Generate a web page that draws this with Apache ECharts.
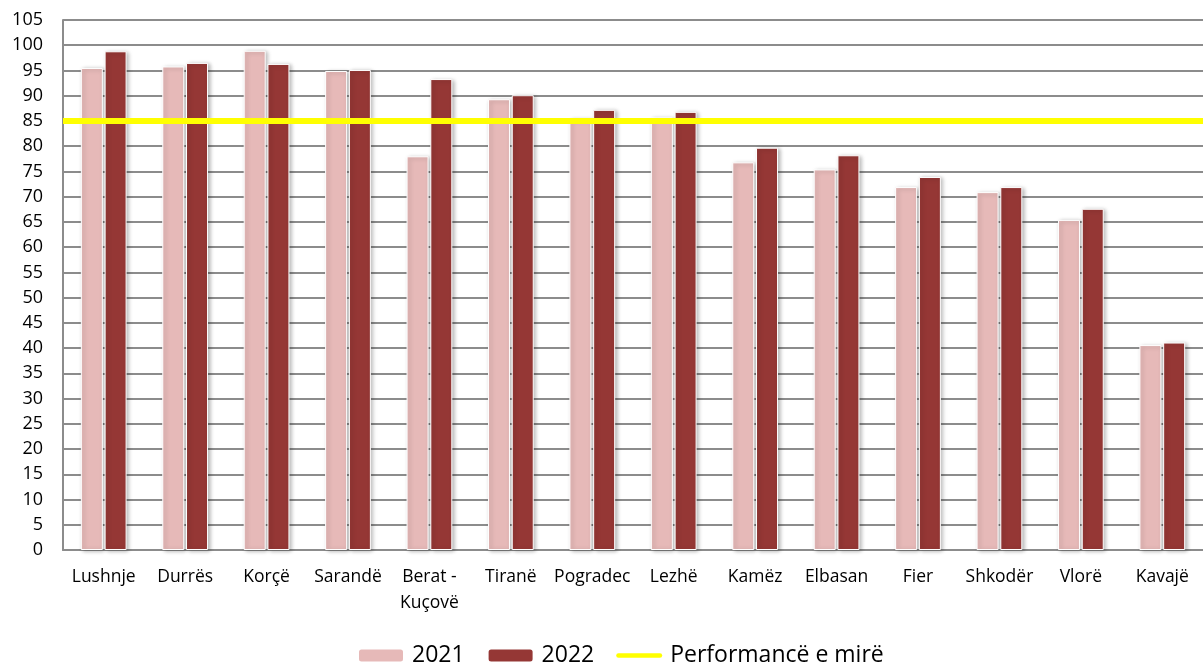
<!DOCTYPE html>
<html>
<head>
<meta charset="utf-8">
<script src="https://cdn.jsdelivr.net/npm/echarts@6/dist/echarts.min.js"></script>
<style>
html,body{margin:0;padding:0;background:#fff;}
#chart{width:1203px;height:666px;}
</style>
</head>
<body>
<div id="chart"></div>
<script>
const categories = ['Lushnje','Durrës','Korçë','Sarandë','Berat -\nKuçovë','Tiranë','Pogradec','Lezhë','Kamëz','Elbasan','Fier','Shkodër','Vlorë','Kavajë'];
const values2021 = [95.5, 95.8, 98.9, 94.9, 78.0, 89.3, 85.4, 85.7, 76.8, 75.4, 71.9, 70.9, 65.4, 40.6];
const values2022 = [98.8, 96.5, 96.3, 95.1, 93.3, 90.1, 87.2, 86.8, 79.7, 78.2, 73.9, 71.9, 67.6, 41.1];
const goodPerformance = 85;
const yTicks = {min: 0, max: 105, interval: 5};

const FONT = '"Open Sans"';
const barStyle = (c) => ({
  color: c, borderColor: '#ffffff', borderWidth: 1,
  shadowBlur: 4, shadowOffsetX: 2, shadowOffsetY: 1, shadowColor: 'rgba(0,0,0,0.28)'
});

const chart = echarts.init(document.getElementById('chart'));
chart.setOption({
  animation: false,
  grid: {left: 63, right: -8, top: 20, bottom: 116, containLabel: false},
  legend: {
    bottom: -1, left: 357, itemGap: 22, itemWidth: 46, itemHeight: 14, padding: 0,
    textStyle: {fontFamily: FONT, fontSize: 23, color: '#000', padding: [0, 0, 0, 3]},
    data: ['2021', '2022', {name: 'Performancë e mirë',
      icon: 'path://M2.5,0 L47.5,0 A2.5,2.5 0 0 1 47.5,5 L2.5,5 A2.5,2.5 0 0 1 2.5,0 Z',
      itemStyle: {color: '#FFFF00'}}]
  },
  xAxis: {
    type: 'category', data: categories,
    axisLine: {lineStyle: {color: '#8c8c8c', width: 2}},
    axisTick: {show: false},
    axisLabel: {fontFamily: FONT, fontSize: 17.5, color: '#000', margin: 14, lineHeight: 26, interval: 0}
  },
  yAxis: {
    type: 'value', min: yTicks.min, max: yTicks.max, interval: yTicks.interval,
    axisLine: {show: true, lineStyle: {color: '#8c8c8c', width: 2}},
    axisTick: {show: false},
    splitLine: {lineStyle: {color: '#8c8c8c', width: 2}},
    axisLabel: {fontFamily: FONT, fontSize: 18, color: '#000', margin: 20}
  },
  series: [
    {name: '2021', type: 'bar', data: values2021, barWidth: 22, barGap: '8%', itemStyle: barStyle('#E6B9B8')},
    {name: '2022', type: 'bar', data: values2022, barWidth: 22, itemStyle: barStyle('#953735')},
    {name: 'Performancë e mirë', type: 'line', data: [], symbol: 'none', itemStyle: {color: '#FFFF00'},
     lineStyle: {color: '#FFFF00', width: 5},
     markLine: {silent: true, symbol: 'none', label: {show: false},
       lineStyle: {color: '#FFFF00', width: 6, type: 'solid'},
       data: [{yAxis: goodPerformance}]}}
  ]
});
</script>
</body>
</html>
